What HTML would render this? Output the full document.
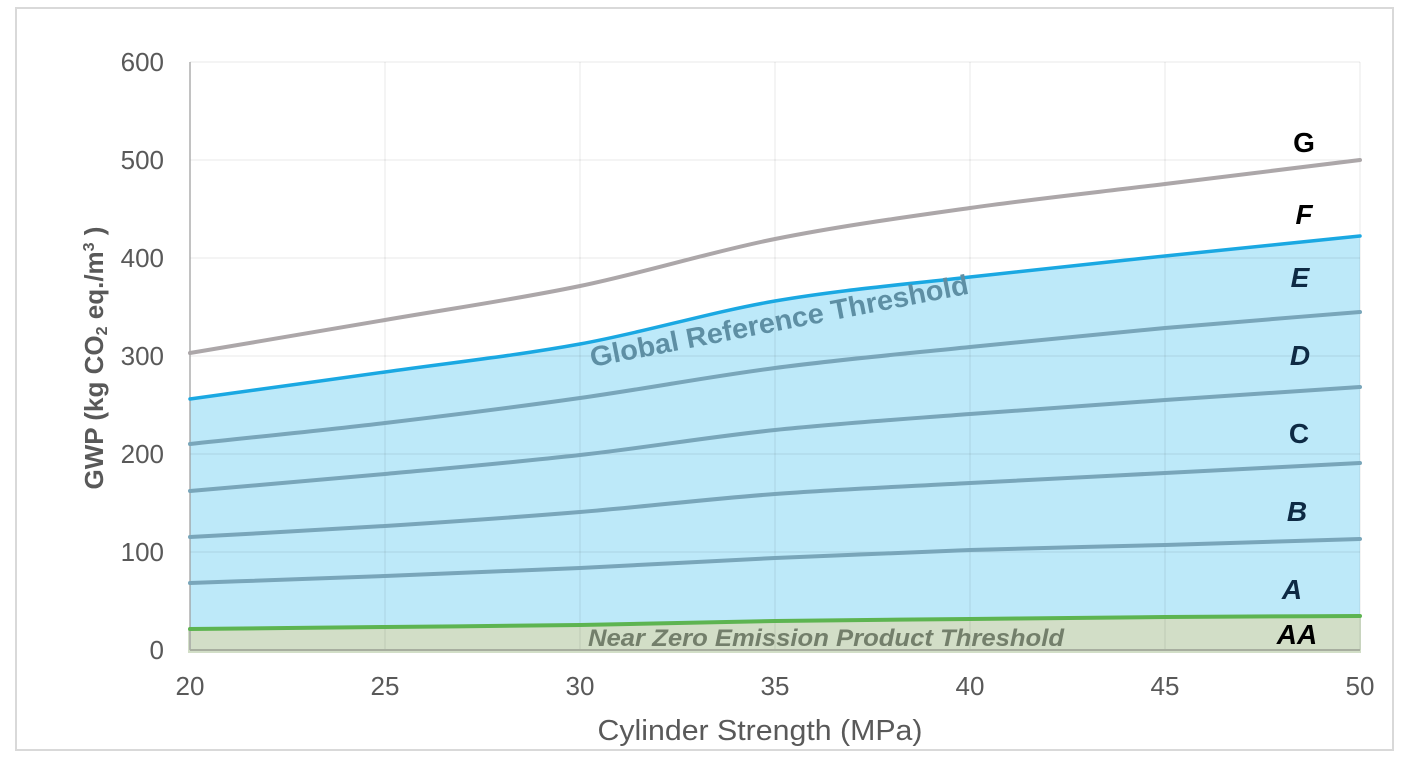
<!DOCTYPE html>
<html><head><meta charset="utf-8"><style>
html,body{margin:0;padding:0;background:#fff;}
svg{display:block;}
text{font-family:"Liberation Sans","DejaVu Sans",sans-serif;}
</style></head><body>
<svg width="1406" height="764" viewBox="0 0 1406 764" xmlns="http://www.w3.org/2000/svg">
<rect x="0" y="0" width="1406" height="764" fill="#fff"/>
<rect x="16" y="8" width="1377" height="742" fill="#fff" stroke="#d9d9d9" stroke-width="2"/>

<!-- blue fill -->
<path d="M190 399 C255 390, 320 381.2, 385 372 C450 362.8, 515 355.8, 580 344 C645 332.2, 710 312.2, 775 301 C840 289.8, 905 284.5, 970 277 C1035 269.5, 1100 262.8, 1165 256 C1230 249.2, 1295 242.7, 1360 236 L1360 650 L190 650 Z" fill="#bde9f9"/>
<!-- green band -->
<path d="M188 629 L190 629 C255 628.3, 320 627.7, 385 627 C450 626.3, 515 626, 580 625 C645 624, 710 622, 775 621 C840 620, 905 619.7, 970 619 C1035 618.3, 1100 617.5, 1165 617 C1230 616.5, 1295 616.3, 1360 616 L1361 616 L1361 653 L188 653 Z" fill="#d2dec7"/>

<!-- gridlines -->
<g stroke="#000" stroke-opacity="0.09" stroke-width="1">
<line x1="190" y1="62" x2="1360" y2="62"/>
<line x1="190" y1="160" x2="1360" y2="160"/>
<line x1="190" y1="258" x2="1360" y2="258"/>
<line x1="190" y1="356" x2="1360" y2="356"/>
<line x1="190" y1="454" x2="1360" y2="454"/>
<line x1="190" y1="552" x2="1360" y2="552"/>
<line x1="385" y1="62" x2="385" y2="650"/>
<line x1="580" y1="62" x2="580" y2="650"/>
<line x1="775" y1="62" x2="775" y2="650"/>
<line x1="970" y1="62" x2="970" y2="650"/>
<line x1="1165" y1="62" x2="1165" y2="650"/>
<line x1="1360" y1="62" x2="1360" y2="650"/>
</g>
<!-- axes -->
<line x1="190" y1="62" x2="190" y2="650" stroke="#9a9a9a" stroke-opacity="0.6" stroke-width="2"/>
<line x1="190" y1="650" x2="1360" y2="650" stroke="#a7ae9f" stroke-width="2"/>

<!-- series -->
<g fill="none" stroke-linecap="round" stroke-width="4">
<path d="M190 353 C255 342, 320 331.2, 385 320 C450 308.8, 515 299.5, 580 286 C645 272.5, 710 252, 775 239 C840 226, 905 217.2, 970 208 C1035 198.8, 1100 192, 1165 184 C1230 176, 1295 168, 1360 160" stroke="#aca7a9"/>
<path d="M190 444 C255 437, 320 430.7, 385 423 C450 415.3, 515 407.2, 580 398 C645 388.8, 710 376.5, 775 368 C840 359.5, 905 353.7, 970 347 C1035 340.3, 1100 333.8, 1165 328 C1230 322.2, 1295 317.3, 1360 312" stroke="#79a6ba"/>
<path d="M190 491 C255 485.3, 320 480, 385 474 C450 468, 515 462.3, 580 455 C645 447.7, 710 436.8, 775 430 C840 423.2, 905 419, 970 414 C1035 409, 1100 404.5, 1165 400 C1230 395.5, 1295 391.3, 1360 387" stroke="#79a6ba"/>
<path d="M190 537 C255 533.3, 320 530.2, 385 526 C450 521.8, 515 517.3, 580 512 C645 506.7, 710 498.8, 775 494 C840 489.2, 905 486.5, 970 483 C1035 479.5, 1100 476.3, 1165 473 C1230 469.7, 1295 466.3, 1360 463" stroke="#79a6ba"/>
<path d="M190 583 C255 580.7, 320 578.5, 385 576 C450 573.5, 515 571, 580 568 C645 565, 710 561, 775 558 C840 555, 905 552.2, 970 550 C1035 547.8, 1100 546.8, 1165 545 C1230 543.2, 1295 541, 1360 539" stroke="#79a6ba"/>
<path d="M190 629 C255 628.3, 320 627.7, 385 627 C450 626.3, 515 626, 580 625 C645 624, 710 622, 775 621 C840 620, 905 619.7, 970 619 C1035 618.3, 1100 617.5, 1165 617 C1230 616.5, 1295 616.3, 1360 616" stroke="#5db451"/>
<path d="M190 399 C255 390, 320 381.2, 385 372 C450 362.8, 515 355.8, 580 344 C645 332.2, 710 312.2, 775 301 C840 289.8, 905 284.5, 970 277 C1035 269.5, 1100 262.8, 1165 256 C1230 249.2, 1295 242.7, 1360 236" stroke="#1aa8e2" stroke-width="3.5"/>
</g>

<!-- in-plot annotations -->
<text x="592" y="367" transform="rotate(-11 592 367)" font-size="28" font-weight="bold" fill="#5e8fa4" textLength="385" lengthAdjust="spacingAndGlyphs">Global Reference Threshold</text>
<text x="588" y="646" font-size="24" font-weight="bold" font-style="italic" fill="#737f6b" textLength="476" lengthAdjust="spacingAndGlyphs">Near Zero Emission Product Threshold</text>

<!-- class labels -->
<g font-size="28" font-weight="bold" text-anchor="middle">
<text x="1304" y="152" fill="#000">G</text>
<text x="1304" y="224" fill="#000" font-style="italic">F</text>
<text x="1300" y="287" fill="#0e2a44" font-style="italic">E</text>
<text x="1300" y="365" fill="#0e2a44" font-style="italic">D</text>
<text x="1299" y="443" fill="#0e2a44">C</text>
<text x="1297" y="521" fill="#0e2a44" font-style="italic">B</text>
<text x="1292" y="599" fill="#0e2a44" font-style="italic">A</text>
<text x="1297" y="644" fill="#000" font-style="italic">AA</text>
</g>

<!-- y tick labels -->
<g font-size="26" fill="#595959" text-anchor="end">
<text x="164" y="71">600</text>
<text x="164" y="169">500</text>
<text x="164" y="267">400</text>
<text x="164" y="365">300</text>
<text x="164" y="463">200</text>
<text x="164" y="561">100</text>
<text x="164" y="659">0</text>
</g>
<!-- x tick labels -->
<g font-size="26" fill="#595959" text-anchor="middle">
<text x="190" y="695">20</text>
<text x="385" y="695">25</text>
<text x="580" y="695">30</text>
<text x="775" y="695">35</text>
<text x="970" y="695">40</text>
<text x="1165" y="695">45</text>
<text x="1360" y="695">50</text>
</g>

<!-- axis titles -->
<text x="760" y="740" font-size="29" fill="#595959" text-anchor="middle" textLength="325" lengthAdjust="spacingAndGlyphs">Cylinder Strength (MPa)</text>
<text transform="translate(103 358) rotate(-90)" font-size="26" font-weight="bold" fill="#595959" text-anchor="middle">GWP (kg CO<tspan font-size="16" dy="4">2</tspan><tspan dy="-4"> eq./m</tspan><tspan font-size="16" dy="-9">3</tspan><tspan dy="9"> )</tspan></text>
</svg>
</body></html>
